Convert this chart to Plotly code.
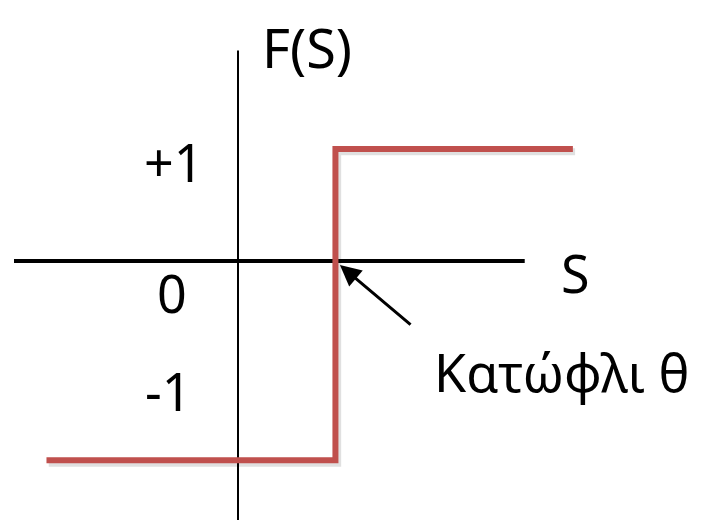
import plotly.graph_objects as go

# Data (units: one "level" unit; origin at axes crossing)
theta = 0.87
upper_level = 1.0
lower_level = -1.78
step_s = [-1.71, theta, theta, 2.99]
step_f = [lower_level, lower_level, upper_level, upper_level]
s_axis_s = [-2.0, 2.56]
s_axis_f = [0.0, 0.0]
f_axis_s = [0.0, 0.0]
f_axis_f = [1.88, -2.40]

tick_labels = ["+1", "0", "-1"]
tick_label_s = [-0.571, -0.589, -0.625]
tick_label_f = [0.884, -0.285, -1.153]

axis_titles = ["F(S)", "S"]
axis_title_s = [0.612, 3.009]
axis_title_f = [1.911, -0.107]
axis_title_sizes = [54, 52]

threshold_label = "Κατώφλι θ"
threshold_label_pos = (2.89, -0.99)
arrow_tail = (1.554, -0.58)

FONT = "Noto Sans"
RED = "#C0504D"
PX = 112.0      # pixels per unit
OFF = 8         # page body margin
X0, Y0 = 238 - OFF, 261 - OFF

fig = go.Figure()
# shadow
fig.add_trace(go.Scatter(x=[s + 0.02 for s in step_s], y=[f - 0.025 for f in step_f],
                         mode="lines", line=dict(color="rgba(0,0,0,0.12)", width=7),
                         hoverinfo="skip", showlegend=False))
fig.add_trace(go.Scatter(x=f_axis_s, y=f_axis_f, mode="lines",
                         line=dict(color="black", width=2), showlegend=False))
fig.add_trace(go.Scatter(x=s_axis_s, y=s_axis_f, mode="lines",
                         line=dict(color="black", width=4), showlegend=False))
fig.add_trace(go.Scatter(x=step_s, y=step_f, mode="lines",
                         line=dict(color=RED, width=6), showlegend=False))

SIZE = 52
for t, x, y in zip(tick_labels, tick_label_s, tick_label_f):
    fig.add_annotation(x=x, y=y, text=t, showarrow=False,
                       font=dict(family=FONT, size=SIZE, color="black"),
                       xanchor="center", yanchor="middle")
for t, x, y, sz in zip(axis_titles, axis_title_s, axis_title_f, axis_title_sizes):
    fig.add_annotation(x=x, y=y, text=t, showarrow=False, borderpad=0,
                       font=dict(family=FONT, size=sz, color="black"),
                       xanchor="center", yanchor="middle")
fig.add_annotation(x=threshold_label_pos[0], y=threshold_label_pos[1], text=threshold_label,
                   showarrow=False, font=dict(family=FONT, size=SIZE, color="black"),
                   xanchor="center", yanchor="middle")
fig.add_annotation(x=theta + 0.04, y=-0.036, ax=arrow_tail[0], ay=arrow_tail[1],
                   axref="x", ayref="y", xref="x", yref="y", text="",
                   showarrow=True, arrowhead=2, arrowsize=1.4, arrowwidth=3,
                   arrowcolor="black")

fig.update_layout(
    width=701, height=520,
    margin=dict(l=0, r=0, t=0, b=0),
    paper_bgcolor="white", plot_bgcolor="white",
    xaxis=dict(range=[-X0 / PX, (701 - X0) / PX], visible=False, fixedrange=True),
    yaxis=dict(range=[-(520 - Y0) / PX, Y0 / PX], visible=False, fixedrange=True),
    showlegend=False,
)
fig.write_html("out.html")
